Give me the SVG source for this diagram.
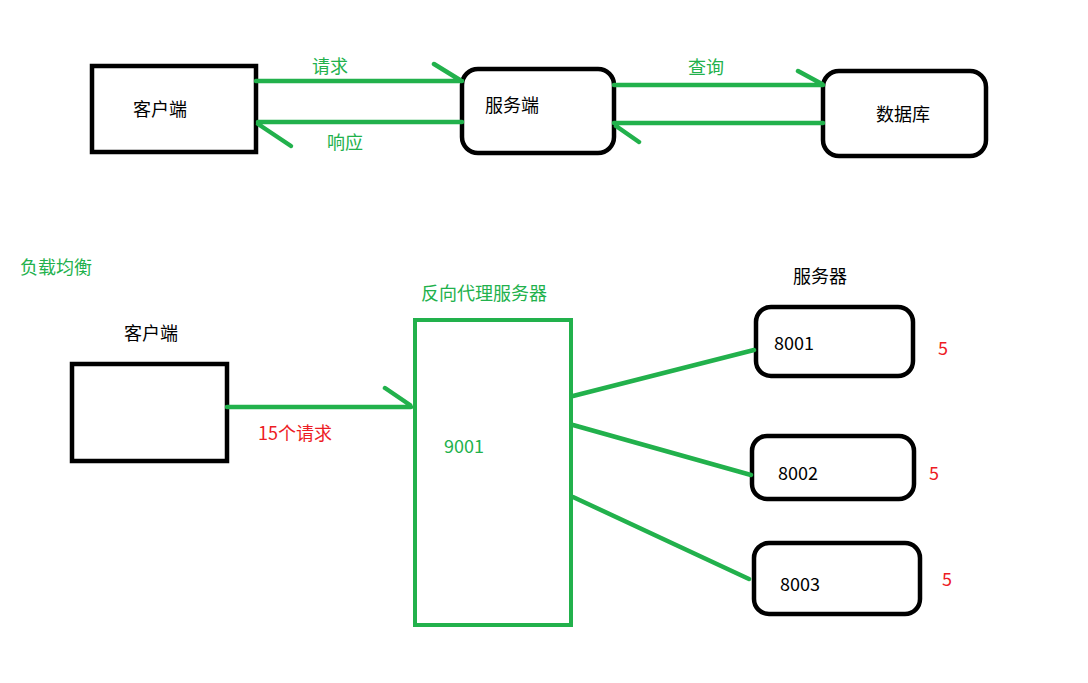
<svg xmlns="http://www.w3.org/2000/svg" width="1088" height="683" viewBox="0 0 1088 683">
<style>
text{font-family:"Microsoft YaHei","Noto Sans CJK SC","Noto Sans",sans-serif;font-size:18px;dominant-baseline:central}
.k{fill:#000}
.g{fill:#22b14c}
.r{fill:#ed1c24}
.box{fill:#fff;stroke:#000;stroke-width:4.5}
.gbox{fill:#fff;stroke:#22b14c;stroke-width:4}
.ln{stroke:#22b14c;stroke-width:4.5;stroke-linecap:round;fill:none}
</style>
<rect width="1088" height="683" fill="#fff"/>
<g id="client1"><rect class="box" x="92" y="66" width="164" height="86"/><text class="k" x="133" y="108">客户端</text></g>
<g id="server1"><rect class="box" x="462" y="69" width="152" height="84" rx="16"/><text class="k" x="485" y="104">服务端</text></g>
<g id="db"><rect class="box" x="823" y="71" width="163" height="85" rx="16"/><text class="k" x="876" y="113">数据库</text></g>
<g id="lbl-lb"><text class="g" x="20" y="266">负载均衡</text></g>
<g id="client2"><text class="k" x="124" y="332">客户端</text><rect class="box" x="72" y="364" width="155" height="97"/></g>
<g id="proxy"><text class="g" x="421" y="292">反向代理服务器</text><rect class="gbox" x="415" y="320" width="156" height="305"/><text class="g" x="444" y="445">9001</text></g>
<g id="servers-label"><text class="k" x="793" y="275">服务器</text></g>
<g id="s8001"><rect class="box" x="756" y="307" width="157" height="69" rx="15"/><text class="k" x="774" y="342">8001</text><text class="r" x="938" y="347">5</text></g>
<g id="s8002"><rect class="box" x="752" y="436" width="162" height="63" rx="15"/><text class="k" x="778" y="472">8002</text><text class="r" x="929" y="472">5</text></g>
<g id="s8003"><rect class="box" x="754" y="543" width="166" height="71" rx="15"/><text class="k" x="780" y="583">8003</text><text class="r" x="942" y="578">5</text></g>
<g id="connectors">
<path class="ln" d="M256 81H462M434 64L460 80"/>
<path class="ln" d="M462 122H258M258 124L291 146"/>
<path class="ln" d="M614 85H823M798 71L822 84"/>
<path class="ln" d="M823 123H614M616 126L639 142"/>
<path class="ln" d="M227 407H411M385 388L410 405"/>
<path class="ln" d="M573 396L754 350M573 425L751 475M573 497L749 579"/>
<text class="g" x="312" y="65">请求</text>
<text class="g" x="327" y="141">响应</text>
<text class="g" x="688" y="66">查询</text>
<text class="r" x="258" y="432">15个请求</text>
</g>
</svg>
